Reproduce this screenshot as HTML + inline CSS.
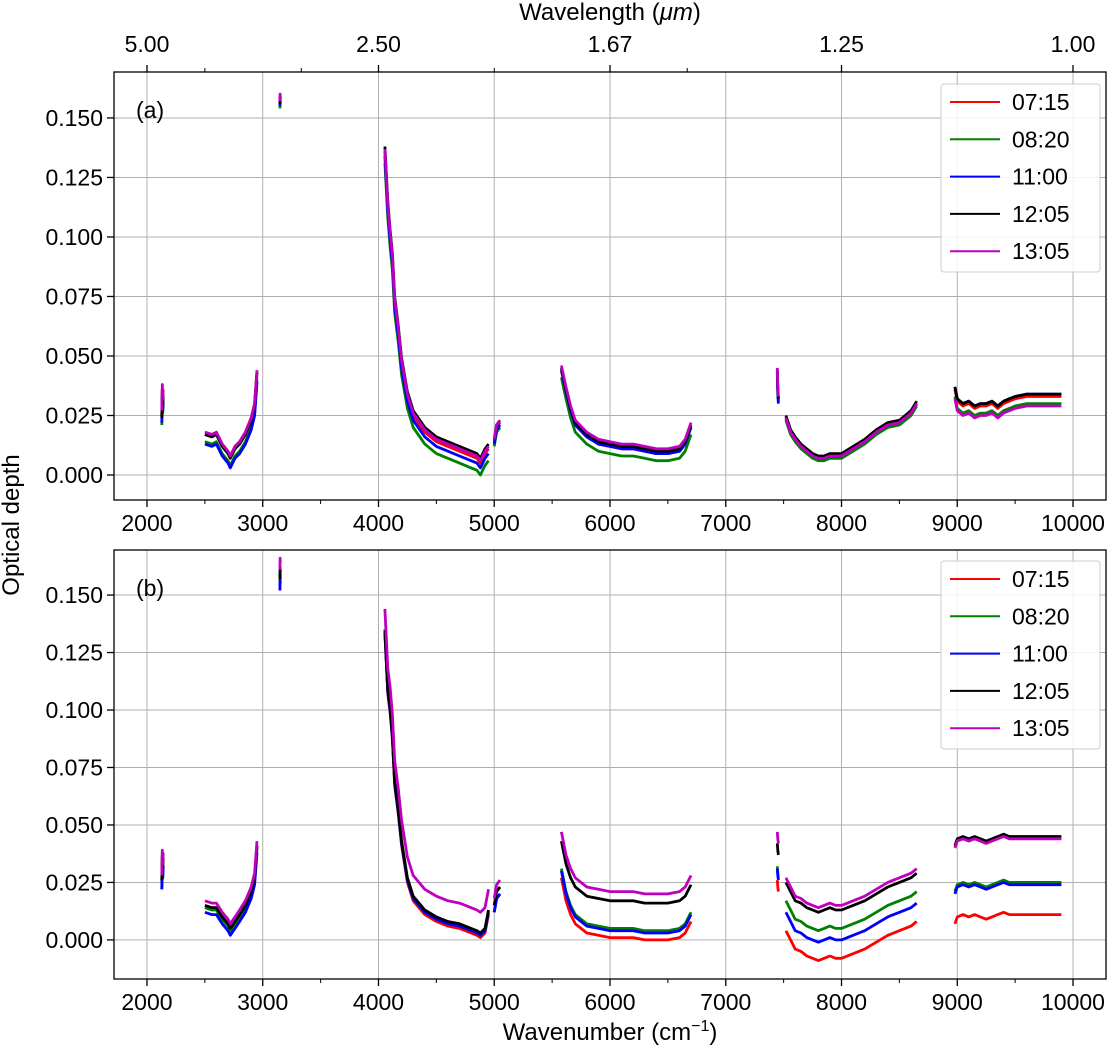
<!DOCTYPE html>
<html><head><meta charset="utf-8"><style>
body{margin:0;background:#fff}
svg text{font-family:"Liberation Sans",sans-serif;fill:#000}
</style></head><body>
<svg id="c" width="1108" height="1046" xmlns="http://www.w3.org/2000/svg"></svg>
<script>
const seriesNames=["07:15","08:20","11:00","12:05","13:05"];
const seriesColors=["#ff0000","#008000","#0000ff","#000000","#bf00bf"];
const xTicks=[2000,3000,4000,5000,6000,7000,8000,9000,10000];
const yTicks=[0,0.025,0.05,0.075,0.1,0.125,0.15];
const yTickLabels=["0.000","0.025","0.050","0.075","0.100","0.125","0.150"];
const topTicks=[2000,4000,6000,8000,10000];
const topTickLabels=["5.00","2.50","1.67","1.25","1.00"];
const topMinor=[2500,3333,5000,6667];
const segX=[
 [2128,2132,2136,2140],
 [2500,2560,2600,2650,2700,2720,2760,2800,2850,2900,2930,2950],
 [3148,3150,3152],
 [4055,4080,4100,4120,4140,4170,4200,4250,4300,4400,4500,4600,4700,4800,4850,4880,4920,4950],
 [5000,5020,5050],
 [5580,5620,5660,5700,5800,5900,6000,6100,6200,6300,6400,6500,6600,6650,6700],
 [7445,7450,7455],
 [7520,7560,7600,7650,7700,7750,7800,7850,7900,7950,8000,8100,8200,8300,8400,8500,8600,8650],
 [8980,9000,9050,9100,9150,9200,9250,9300,9350,9400,9450,9500,9600,9700,9800,9900]
];
const baseA=[
 [0.024,0.035,0.029,0.033],
 [0.016,0.015,0.016,0.011,0.008,0.006,0.010,0.012,0.016,0.022,0.028,0.042],
 [0.156,0.159,0.158],
 [0.135,0.112,0.100,0.090,0.072,0.060,0.046,0.032,0.024,0.017,0.013,0.011,0.009,0.007,0.006,0.004,0.008,0.010],
 [0.014,0.020,0.022],
 [0.044,0.035,0.027,0.021,0.016,0.013,0.012,0.011,0.011,0.010,0.009,0.009,0.010,0.013,0.020],
 [0.044,0.036,0.032],
 [0.024,0.018,0.015,0.012,0.010,0.008,0.007,0.007,0.008,0.008,0.008,0.011,0.014,0.018,0.021,0.022,0.026,0.030],
 [0.036,0.031,0.029,0.030,0.028,0.029,0.029,0.030,0.028,0.030,0.031,0.032,0.033,0.033,0.033,0.033]
];
const offA=[
 [0.001,0.002,0,0.001,0,0,0,0,0],
 [-0.003,-0.002,-0.002,-0.004,-0.002,-0.003,-0.001,-0.001,-0.003],
 [-0.002,-0.003,-0.001,-0.001,-0.001,0,-0.002,0,0.001],
 [0,0.001,0,0.003,0.001,0.001,0,0.001,0.001],
 [0.003,0.002,0.001,0.002,0.001,0.002,0.001,0,-0.004]
];
const baseB=[
 [0.024,0.035,0.029,0.034],
 [0.014,0.013,0.013,0.009,0.006,0.004,0.007,0.010,0.014,0.020,0.026,0.040],
 [0.155,0.160,0.158],
 [0.134,0.108,0.100,0.088,0.068,0.056,0.042,0.026,0.018,0.012,0.009,0.007,0.006,0.004,0.003,0.002,0.004,0.012],
 [0.012,0.018,0.020],
 [0.030,0.020,0.014,0.010,0.006,0.005,0.004,0.004,0.004,0.003,0.003,0.003,0.004,0.006,0.011],
 [0.030,0.027,0.025],
 [0.012,0.008,0.004,0.003,0.001,0.000,-0.001,0.000,0.001,0.000,0.000,0.002,0.004,0.007,0.010,0.012,0.014,0.016],
 [0.020,0.023,0.024,0.023,0.024,0.023,0.022,0.023,0.024,0.025,0.024,0.024,0.024,0.024,0.024,0.024]
];
const offB=[
 [0.001,0.001,0,-0.001,0,-0.003,-0.004,-0.008,-0.013],
 [-0.002,0,-0.001,0,0,0.001,0.002,0.005,0.001],
 [-0.002,-0.002,-0.003,0,0,0,0.001,0,0],
 [0.002,0.001,0.002,0.001,0.003,0.013,0.012,0.013,0.021],
 [0.004,0.003,0.006,0.010,0.006,0.017,0.017,0.015,0.020]
];
const NS="http://www.w3.org/2000/svg";
const svg=document.getElementById('c');
function mk(t,a,p){const e=document.createElementNS(NS,t);for(const k in a)e.setAttribute(k,a[k]);(p||svg).appendChild(e);return e;}
const X0=114,X1=1106,XMIN=1715,XMAX=10285;
const xs=v=>X0+(v-XMIN)/(XMAX-XMIN)*(X1-X0);
function panel(top,bot,ymin,ymax,base,off,label,legTop,isA){
 const g=mk('g',{});
 
 
 const ys=v=>bot-(v-ymin)/(ymax-ymin)*(bot-top);
 xTicks.forEach(t=>{mk('line',{x1:xs(t),x2:xs(t),y1:top,y2:bot,stroke:'#b0b0b0','stroke-width':1},g);
  mk('line',{x1:xs(t),x2:xs(t),y1:bot,y2:bot+7,stroke:'#000','stroke-width':1.3},g);
  const tx=mk('text',{x:xs(t),y:bot+31,'text-anchor':'middle','font-size':23},g);tx.textContent=t;});
 for(let t=2500;t<10000;t+=1000)mk('line',{x1:xs(t),x2:xs(t),y1:bot,y2:bot+4,stroke:'#000'},g);
 yTicks.forEach((t,i)=>{mk('line',{x1:X0,x2:X1,y1:ys(t),y2:ys(t),stroke:'#b0b0b0','stroke-width':1},g);
  mk('line',{x1:X0-7,x2:X0,y1:ys(t),y2:ys(t),stroke:'#000','stroke-width':1.3},g);
  const tx=mk('text',{x:X0-11,y:ys(t)+8,'text-anchor':'end','font-size':23},g);tx.textContent=yTickLabels[i];});
 seriesNames.forEach((n,s)=>{
  segX.forEach((sx,k)=>{
   const pts=sx.map((x,i)=>xs(x).toFixed(1)+','+ys(base[k][i]+off[s][k]).toFixed(1)).join(' ');
   const pl=mk('polyline',{points:pts,fill:'none',stroke:seriesColors[s],'stroke-width':2.8,'stroke-linejoin':'round'},g);
   
   
  });
 });
 mk('rect',{x:X0,y:top,width:X1-X0,height:bot-top,fill:'none',stroke:'#000','stroke-width':1.3},g);
 const lt=mk('text',{x:136,y:top+46,'font-size':23},g);lt.textContent=label;
 
 const lg=mk('g',{},g);
 mk('rect',{x:941,y:legTop,width:159,height:188,rx:3,fill:'#fff','fill-opacity':0.85,stroke:'#ccc'},lg);
 seriesNames.forEach((n,s)=>{const y=legTop+18+s*37.3;
  const e=mk('g',{},lg);
  mk('line',{x1:950,x2:1000,y1:y,y2:y,stroke:seriesColors[s],'stroke-width':2},e);
  const t=mk('text',{x:1012,y:y+8,'font-size':23},e);t.textContent=n;});
}
panel(72,500,-0.0105,0.1693,baseA,offA,'(a)',84,true);
panel(550,979,-0.0170,0.1696,baseB,offB,'(b)',561,false);
topTicks.forEach((t,i)=>{mk('line',{x1:xs(t),x2:xs(t),y1:65,y2:72,stroke:'#000','stroke-width':1.3});
 const tx=mk('text',{x:xs(t),y:52,'text-anchor':'middle','font-size':23});tx.textContent=topTickLabels[i];});
topMinor.forEach(t=>mk('line',{x1:xs(t),x2:xs(t),y1:68,y2:72,stroke:'#000'}));
const tl=mk('text',{x:610,y:20,'text-anchor':'middle','font-size':24});

tl.innerHTML='Wavelength (<tspan font-style="italic">μm</tspan>)';
const xl=mk('text',{x:610,y:1040,'text-anchor':'middle','font-size':24});

xl.innerHTML='Wavenumber (cm<tspan dy="-9" font-size="16">−1</tspan><tspan dy="9">)</tspan>';
const yl=mk('text',{x:19,y:525,'text-anchor':'middle','font-size':24,transform:'rotate(-90 19 525)'});

yl.textContent='Optical depth';
</script>
</body></html>
